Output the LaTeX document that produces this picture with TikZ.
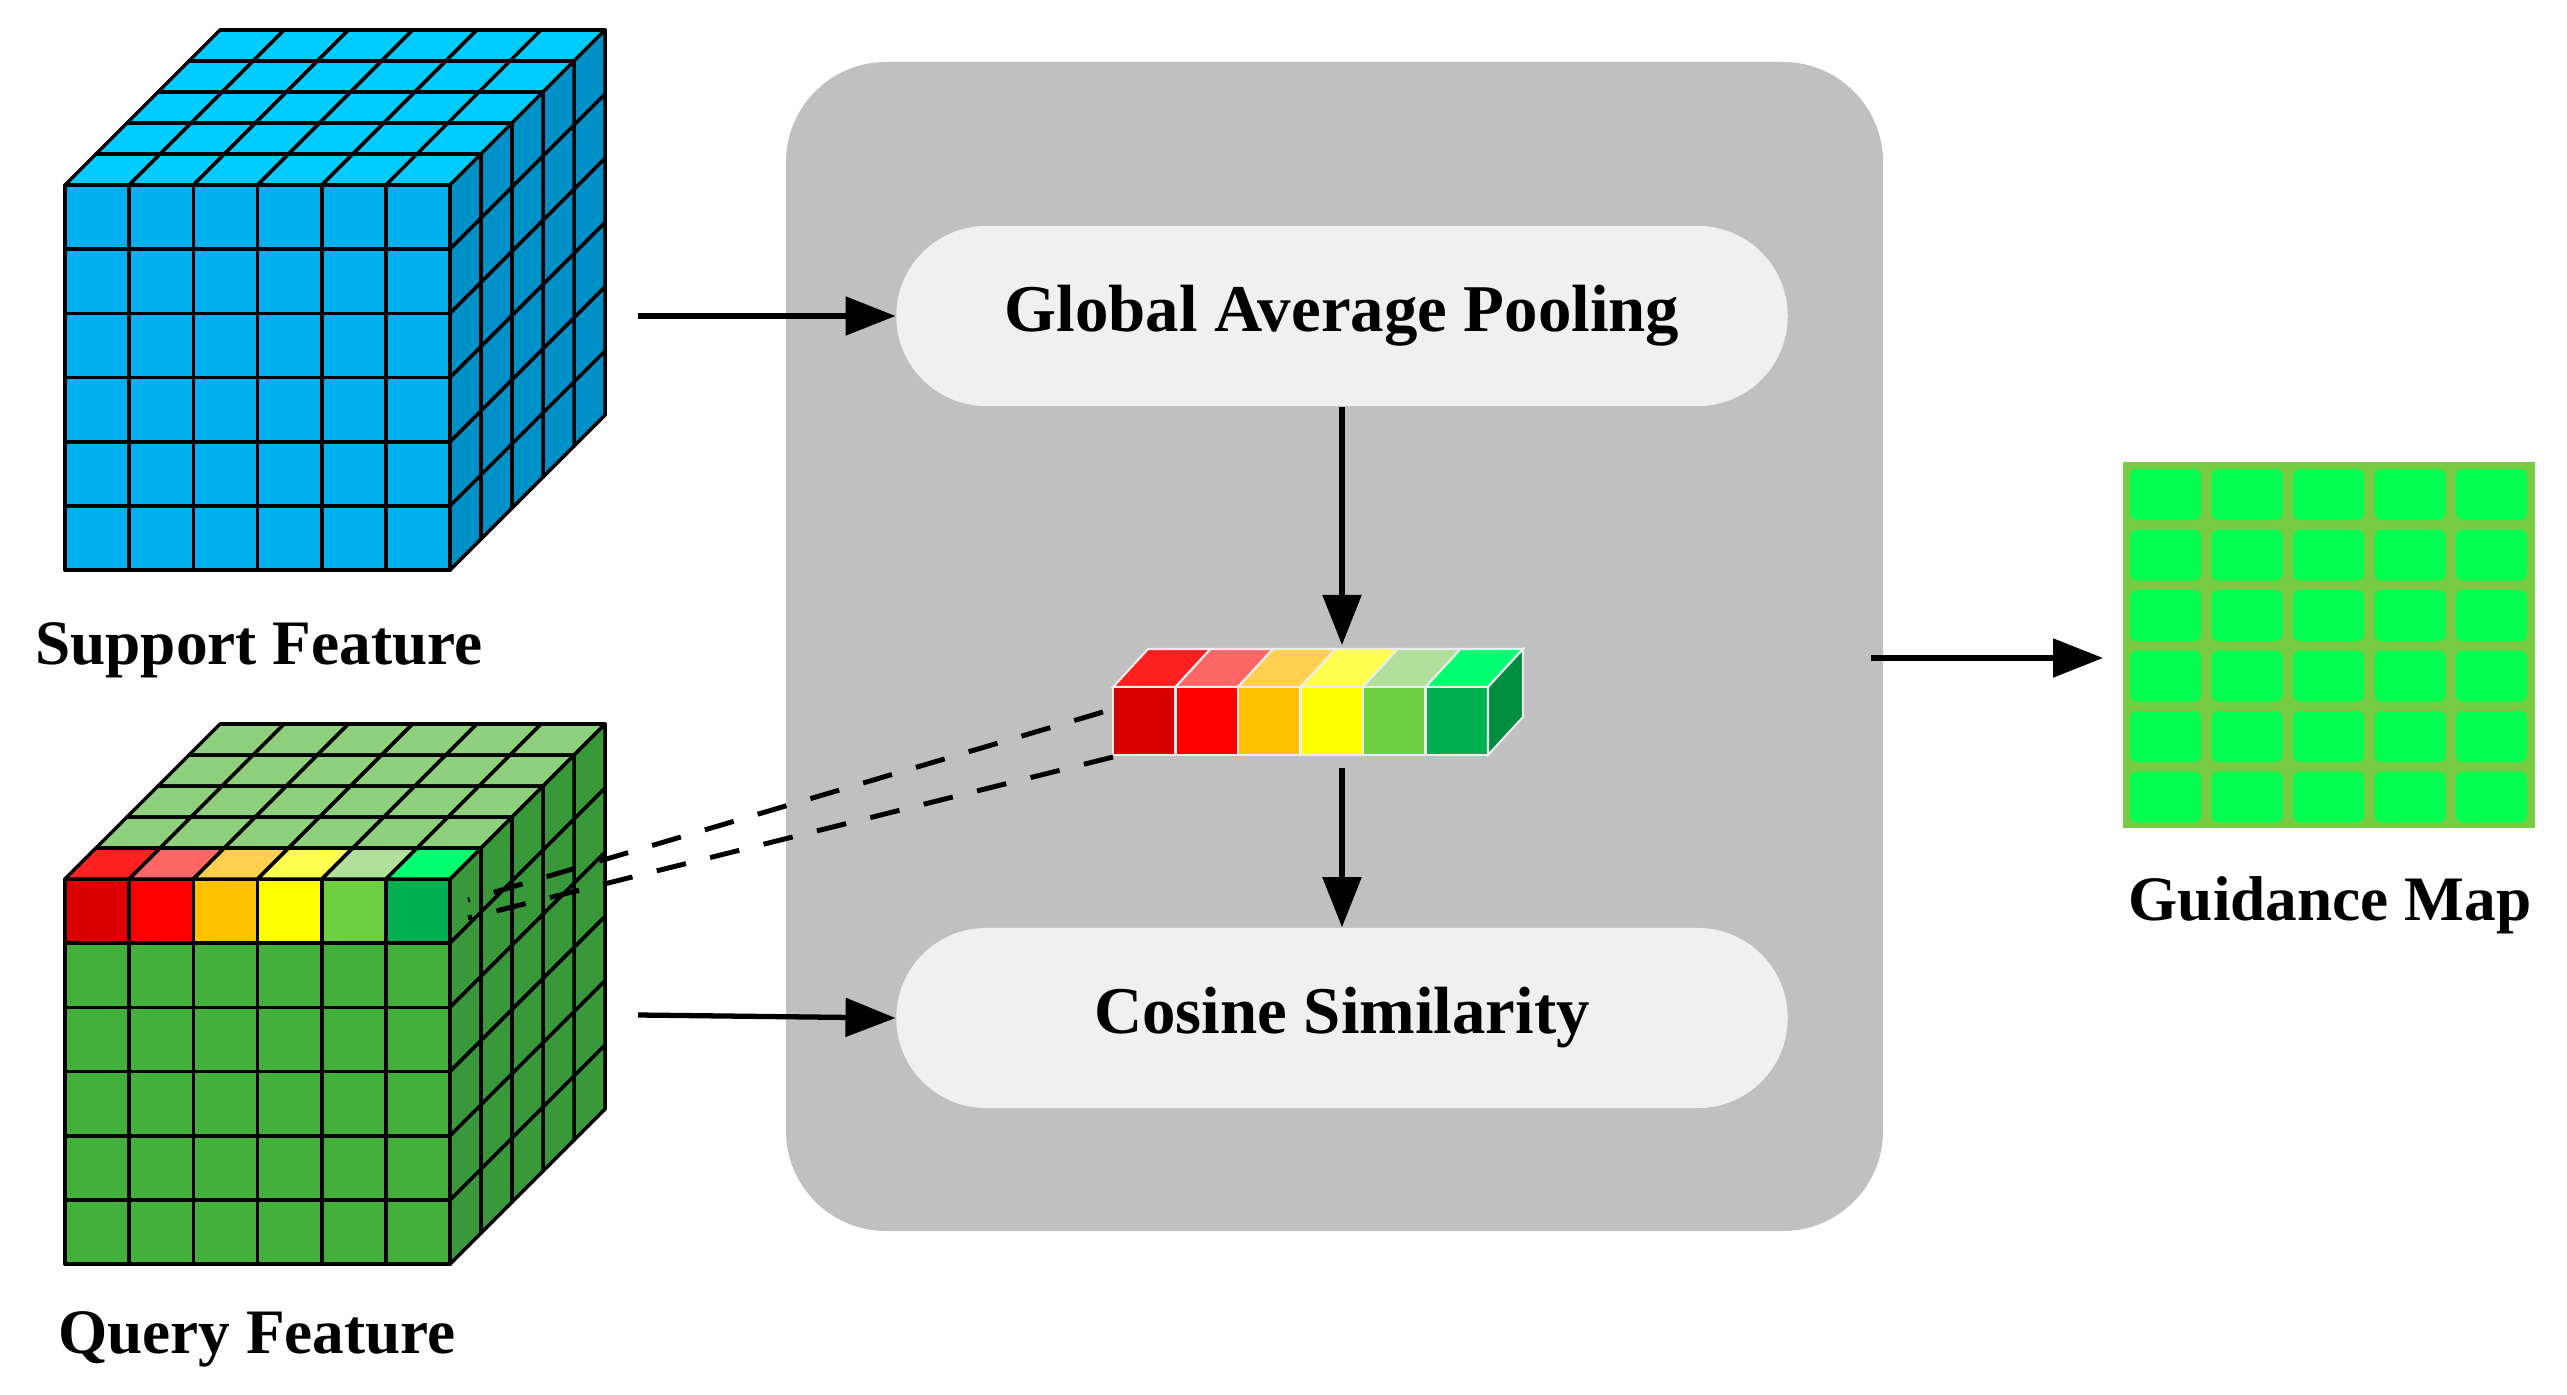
\documentclass[tikz,border=0pt]{standalone}
\usepackage{fontspec}
\setmainfont{Liberation Serif}
\usetikzlibrary{arrows.meta}

\definecolor{blueF}{HTML}{00B0F0}
\definecolor{blueT}{HTML}{00CCFF}
\definecolor{blueS}{HTML}{0090C8}
\definecolor{grnF}{HTML}{44B03C}
\definecolor{grnT}{HTML}{8ED07E}
\definecolor{grnS}{HTML}{38983A}
\definecolor{panel}{HTML}{C0C0C0}
\definecolor{pill}{HTML}{F0F0F0}
\definecolor{mapbg}{HTML}{77CC44}
\definecolor{mapcell}{HTML}{00FF50}
% colour ramp: front / top
\definecolor{cA}{HTML}{DA0000}\definecolor{tA}{HTML}{FF2020}
\definecolor{cB}{HTML}{FF0000}\definecolor{tB}{HTML}{FF6666}
\definecolor{cC}{HTML}{FFC000}\definecolor{tC}{HTML}{FFD050}
\definecolor{cD}{HTML}{FFFF00}\definecolor{tD}{HTML}{FFFF50}
\definecolor{cE}{HTML}{6CD040}\definecolor{tE}{HTML}{B0E09A}
\definecolor{cF}{HTML}{00B050}\definecolor{tF}{HTML}{00FF70}

\tikzset{
  cell/.style={draw=black, line width=1pt, line join=round},
  box/.style={rounded corners=0.9cm, fill=pill, minimum width=8.91cm,
    minimum height=1.8cm, font=\fontsize{19}{22}\selectfont\bfseries},
  lbl/.style={font=\fontsize{18}{21}\selectfont\bfseries},
  flow/.style={line width=1.5pt, -{Triangle[length=0.5cm,width=0.38cm]}},
  link/.style={line width=1.4pt, dash pattern=on 0.3cm off 0.25cm},
}

% feature cube: #1,#2 front top-left; #3 front, #4 top, #5 side colours
\newcommand\featcube[5]{%
  \foreach \j in {4,...,0}{
    \foreach \i in {0,...,5}{
      \fill[#4, cell] ({#1+\i*64.2+\j*31},{#2-\j*31})
        -- ++(64.2,0) -- ++(31,-31) -- ++(-64.2,0) -- cycle;
    }
  }
  \foreach \j in {4,...,0}{
    \foreach \k in {0,...,5}{
      \fill[#5, cell] ({#1+385+\j*31},{#2+\k*64.2-\j*31})
        -- ++(31,-31) -- ++(0,64.2) -- ++(-31,31) -- cycle;
    }
  }
  \foreach \i in {0,...,5}{
    \foreach \k in {0,...,5}{
      \fill[#3, cell] ({#1+\i*64.2},{#2+\k*64.2}) rectangle ++(64.2,64.2);
    }
  }
}

\begin{document}
\begin{tikzpicture}[x=0.01cm, y=-0.01cm]
\useasboundingbox (0,0) rectangle (2567,1394);

% central panel
\fill[panel, rounded corners=1cm] (786,62) rectangle (1883,1231);

% support feature cube
\featcube{65}{185}{blueF}{blueT}{blueS}
\node[lbl] (slbl) at (259,650) {Support Feature};

% query feature cube with coloured first row
\featcube{65}{879}{grnF}{grnT}{grnS}
\foreach \c [count=\i from 0] in {A,B,C,D,E,F}{
  \fill[c\c, cell] ({65+\i*64.2},879) rectangle ++(64.2,64.2);
  \fill[t\c, cell] ({65+\i*64.2},879) -- ++(31,-31) -- ++(64.2,0)
    -- ++(-31,31) -- cycle;
}
\node[lbl] (qlbl) at (257,1339) {Query Feature};

% pooled vector
\foreach \c [count=\i from 0] in {A,B,C,D,E,F}{
  \fill[t\c, draw=white!85!gray, line width=0.6pt] ({1113+\i*62.5},687)
    -- ++(35,-38) -- ++(62.5,0) -- ++(-35,38) -- cycle;
  \fill[c\c, draw=white!85!gray, line width=0.6pt] ({1113+\i*62.5},687)
    rectangle ++(62.5,68);
}
\fill[cF!80!black, draw=white!85!gray, line width=0.6pt] (1488,687)
  -- ++(35,-38) -- ++(0,68) -- ++(-35,38) -- cycle;
\coordinate (vtop) at (1342,645);
\coordinate (vbot) at (1342,768);
\coordinate (vl1) at (1103,712);
\coordinate (vl2) at (1113,757);
\coordinate (qt1) at (468,900);
\coordinate (qt2) at (468,918);

% blocks
\node[box] (gap) at (1342,316) {Global Average Pooling};
\node[box] (cos) at (1342,1018) {Cosine Similarity};

% guidance map
\fill[mapbg] (2123,462) rectangle (2535,828);
\foreach \i in {0,...,4}{
  \foreach \k in {0,...,5}{
    \fill[mapcell, rounded corners=2pt] ({2130+\i*81.5},{469+\k*60.5})
      rectangle ++(71,51);
  }
}
\node[lbl] (glbl) at (2330,905) {Guidance Map};

% connectors
\coordinate (sout) at (638,316);
\coordinate (qout) at (638,1015);
\coordinate (pout) at (1871,658);
\coordinate (gin) at (2103,658);
\draw[flow] (sout) -- (gap.west);
\draw[flow] (qout) -- (cos.west);
\draw[flow] (gap.south) -- (vtop);
\draw[flow] (vbot) -- (cos.north);
\draw[flow] (pout) -- (gin);
\draw[link] (vl1) -- (qt1);
\draw[link] (vl2) -- (qt2);
\end{tikzpicture}
\end{document}
